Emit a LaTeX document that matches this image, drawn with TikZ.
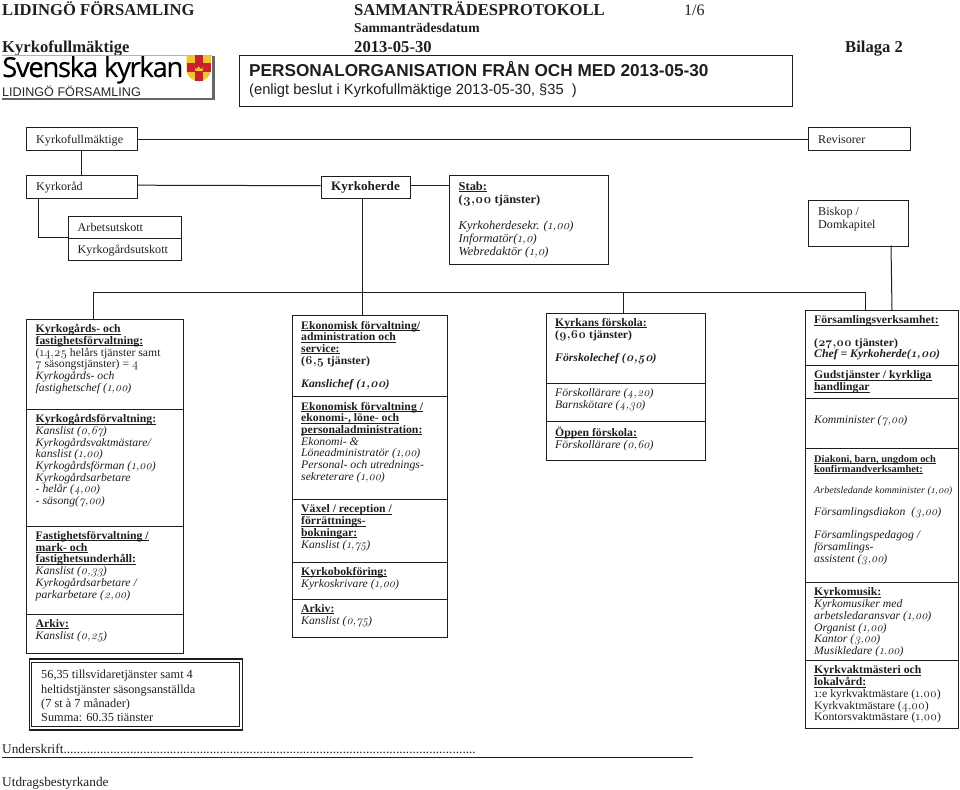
\documentclass[tikz,border=0pt]{standalone}
\usepackage{fontspec}
\setmainfont{Liberation Serif}
\newfontfamily\geo[FakeStretch=1.02]{Liberation Serif}
\newfontfamily\geonum[Numbers=OldStyle,Scale=1.06]{Latin Modern Roman}
\newfontfamily\arialf{Liberation Sans}
\newfontfamily\logof[FakeBold=0.5]{Open Sans}
\newcommand{\nn}[1]{{\geonum #1}}
\newsavebox{\ubbox}
\newcommand{\ub}[1]{\sbox{\ubbox}{\textbf{#1}}\rlap{\rule[-1.5pt]{\wd\ubbox}{.65pt}}\usebox{\ubbox}}
\definecolor{ink}{HTML}{1E1E1E}
\definecolor{shieldy}{HTML}{F2C230}
\definecolor{shieldr}{HTML}{C8202F}
\tikzset{
  x=1pt,y=-1pt,
  every node/.style={text=ink},
  frame/.style={draw=ink,line width=1pt,inner sep=0pt,fill=none},
  conn/.style={draw=ink,line width=1pt},
  cellbody/.style={inner sep=0pt,anchor=north west,align=left,
    font=\geo\fontsize{11.5}{11.68}\selectfont,execute at begin node=\strut},
  labeltxt/.style={inner sep=0pt,anchor=base west,font=\geo\fontsize{11.9}{13}\selectfont},
  hdr/.style={inner sep=0pt,anchor=base west,font=\bfseries\fontsize{16.6}{18}\selectfont},
}
\newcommand{\cell}[6]{%
  \node[frame,anchor=north west,minimum width=#4,minimum height=#5] (#1) at (#2,#3) {};
  \node[cellbody] (#1t) at ([xshift=9.5pt,yshift=-5.8pt]#1.north west) {#6};}
\newcommand{\plainbox}[6]{%
  \node[frame,anchor=north west,minimum width=#4,minimum height=#5] (#1) at (#2,#3) {};
  \node[labeltxt] (#1t) at ([xshift=10pt,yshift=-16pt]#1.north west) {#6};}
\begin{document}
\begin{tikzpicture}
\useasboundingbox (0,0) rectangle (960,789);
% header
\node[hdr] (h1) at (2,15.5) {LIDINGÖ FÖRSAMLING};
\node[hdr] (h2) at (354,15.5) {SAMMANTRÄDESPROTOKOLL};
\node[inner sep=0pt,anchor=base west,font=\fontsize{16}{18}\selectfont] (h3) at (684,15.5) {1/6};
\node[inner sep=0pt,anchor=base west,font=\bfseries\fontsize{13.6}{15}\selectfont] (h4) at (354,33) {Sammanträdesdatum};
\node[hdr] (h5) at (2,52.5) {Kyrkofullmäktige};
\node[hdr] (h6) at (354,52.5) {2013-05-30};
\node[hdr] (h7) at (845,52.5) {Bilaga 2};
% logo
\fill[gray!80!black] (212,56) rectangle (214.6,100.5);
\fill[gray!80!black] (2,98) rectangle (214.6,100.5);
\draw[gray!60,line width=.5pt] (2,55.5) -- (212,55.5);
\node[inner sep=0pt,anchor=base west,font=\logof\fontsize{27.5}{28}\selectfont,text=black] (lg1) at (2,77) {\addfontfeature{LetterSpace=-4.9}Svenska kyrkan};
\node[inner sep=0pt,anchor=base west,font=\arialf\fontsize{12.6}{13}\selectfont,text=black!85] (lg2) at (2,97) {LIDINGÖ FÖRSAMLING};
\fill[shieldy] (186.5,55.5) -- (211,55.5) -- (211,70) .. controls (211,77) and (204,81) .. (199,81.5) .. controls (193,81) and (186.5,77) .. (186.5,70) -- cycle;
\fill[shieldr] (195,55.5) rectangle (203,81.3);
\fill[shieldr] (186.5,63) rectangle (211,72);
\fill[shieldy] (194.5,67) -- (196,69.5) -- (198.7,66.5) -- (201.5,69.5) -- (203.5,67) -- (202.5,71) -- (195.5,71) -- cycle;
% title
\node[frame,anchor=north west,minimum width=553,minimum height=50.5] (title) at (239,55.5) {};
\node[inner sep=0pt,anchor=base west,font=\arialf\bfseries\fontsize{17.2}{18}\selectfont] (t1) at (249,77) {PERSONALORGANISATION FRÅN OCH MED 2013-05-30};
\node[inner sep=0pt,anchor=base west,font=\arialf\fontsize{14.7}{15}\selectfont] (t2) at (249,95) {(enligt beslut i Kyrkofullmäktige 2013-05-30, §35~ )};
% top boxes
\plainbox{kf}{26}{127}{111}{23}{Kyrkofullmäktige}
\plainbox{rev}{808}{127}{101.5}{23}{Revisorer}
\plainbox{kr}{26}{174.5}{111}{23}{Kyrkoråd}
\plainbox{au}{67.5}{215.5}{113}{22}{Arbetsutskott}
\plainbox{ku}{67.5}{237.5}{113}{22.5}{Kyrkogårdsutskott}
\node[frame,anchor=north west,minimum width=89,minimum height=22] (kh) at (320.5,175.5) {};
\node[inner sep=0pt,font=\geo\bfseries\fontsize{12.9}{13}\selectfont] (kht) at (kh.center) {Kyrkoherde};
\node[frame,anchor=north west,minimum width=100,minimum height=46] (bd) at (808,199.5) {};
\node[inner sep=0pt,anchor=north west,align=left,font=\geo\fontsize{11.9}{13}\selectfont,execute at begin node=\strut] (bdt) at (818,207.5) {Biskop /\\Domkapitel};
\node[frame,anchor=north west,minimum width=158.5,minimum height=89] (st) at (449,174.5) {};
\node[cellbody,font=\geo\fontsize{12.2}{13}\selectfont] (stt) at (458.5,181.5) {\ub{Stab:}\\\textbf{(\nn{3,00} tjänster)}\\[13pt]\textit{Kyrkoherdesekr. (\nn{1,00})}\\\textit{Informatör(\nn{1,0})}\\\textit{Webredaktör (\nn{1,0})}};
% box 1
\cell{aa}{26}{318.5}{156.5}{90}{\ub{Kyrkogårds- och}\\\ub{fastighetsförvaltning:}\\(\nn{14,25} helårs tjänster samt\\\nn{7} säsongstjänster) = \nn{4}\\\textit{Kyrkogårds- och}\\\textit{fastighetschef (\nn{1,00})}}
\cell{ab}{26}{408.5}{156.5}{117}{\ub{Kyrkogårdsförvaltning:}\\\textit{Kanslist (\nn{0,67})}\\\textit{Kyrkogårdsvaktmästare/}\\\textit{kanslist (\nn{1,00})}\\\textit{Kyrkogårdsförman (\nn{1,00})}\\\textit{Kyrkogårdsarbetare}\\\textit{- helår (\nn{4,00})}\\\textit{- säsong(\nn{7,00})}}
\cell{ac}{26}{525.5}{156.5}{88}{\ub{Fastighetsförvaltning /}\\\ub{mark- och}\\\ub{fastighetsunderhåll:}\\\textit{Kanslist (\nn{0,33})}\\\textit{Kyrkogårdsarbetare /}\\\textit{parkarbetare (\nn{2,00})}}
\cell{ad}{26}{613.5}{156.5}{39.5}{\ub{Arkiv:}\\\textit{Kanslist (\nn{0,25})}}
% summary
\node[inner sep=0pt,anchor=north west,align=left,font=\fontsize{12.3}{14.4}\selectfont,execute at begin node=\strut] (sumt) at (41,670) {56,35 tillsvidaretjänster samt 4\\heltidstjänster säsongsanställda\\(7 st à 7 månader)\\Summa: 60,35 tjänster};
\fill[white] (32,720.8) rectangle (239,730);
\node[frame,anchor=north west,line width=1.3pt,minimum width=213.5,minimum height=71] (sum) at (28.5,658.2) {};
\node[frame,anchor=north west,line width=.8pt,minimum width=208,minimum height=64.5] (sumi) at (31.3,661.5) {};
% box 2
\cell{ba}{291.5}{315}{155}{81}{\ub{Ekonomisk förvaltning/}\\\ub{administration och}\\\ub{service:}\\\textbf{(\nn{6,5} tjänster)}\\[11.68pt]\textbf{\textit{Kanslichef (\nn{1,00})}}}
\cell{bb}{291.5}{396}{155}{103}{\ub{Ekonomisk förvaltning /}\\\ub{ekonomi-, löne- och}\\\ub{personaladministration:}\\\textit{Ekonomi- \&}\\\textit{Löneadministratör (\nn{1,00})}\\\textit{Personal- och utrednings-}\\\textit{sekreterare (\nn{1,00})}}
\cell{bc}{291.5}{499}{155}{62.5}{\ub{Växel / reception /}\\\ub{förrättnings-}\\\ub{bokningar:}\\\textit{Kanslist (\nn{1,75})}}
\cell{bd}{291.5}{561.5}{155}{37}{\ub{Kyrkobokföring:}\\\textit{Kyrkoskrivare (\nn{1,00})}}
\cell{be}{291.5}{598.5}{155}{38}{\ub{Arkiv:}\\\textit{Kanslist (\nn{0,75})}}
% box 3
\cell{ca}{545.5}{312.5}{159}{70}{\ub{Kyrkans förskola:}\\\textbf{(\nn{9,60} tjänster)}\\[11.68pt]\textbf{\textit{Förskolechef (\nn{0,50})}}}
\cell{cb}{545.5}{382.5}{159}{38.5}{\textit{Förskollärare (\nn{4,20})}\\\textit{Barnskötare (\nn{4,30})}}
\cell{cc}{545.5}{421}{159}{38.5}{\ub{Öppen förskola:}\\\textit{Förskollärare (\nn{0,60})}}
% box 4
\cell{da}{804.5}{310}{153}{55}{\ub{Församlingsverksamhet:}\\[10.5pt]\textbf{(\nn{27,00} tjänster)}\\\textbf{\textit{Chef = Kyrkoherde(\nn{1,00})}}}
\cell{db}{804.5}{365}{153}{33}{\ub{Gudstjänster / kyrkliga}\\\ub{handlingar}}
\node[frame,anchor=north west,minimum width=153,minimum height=50] (dc) at (804.5,398) {};
\node[cellbody] (dct) at (814,415) {\textit{Komminister (\nn{7,00})}};
\node[frame,anchor=north west,minimum width=153,minimum height=134] (dd) at (804.5,448) {};
\node[cellbody,font=\geo\fontsize{10.2}{10.3}\selectfont] (ddt) at (814,455) {\ub{Diakoni, barn, ungdom och}\\\ub{konfirmandverksamhet:}};
\node[cellbody,font=\geo\fontsize{9.9}{11}\selectfont] (dde) at (814,485.5) {\textit{Arbetsledande komminister (\nn{1,00})}};
\node[cellbody] (ddf) at (814,507) {\textit{Församlingsdiakon~ (\nn{3,00})}};
\node[cellbody] (ddg) at (814,530.5) {\textit{Församlingspedagog /}\\\textit{församlings-}\\\textit{assistent (\nn{3,00})}};
\cell{de}{804.5}{582}{153}{78}{\ub{Kyrkomusik:}\\\textit{Kyrkomusiker med}\\\textit{arbetsledaransvar (\nn{1,00})}\\\textit{Organist (\nn{1,00})}\\\textit{Kantor (\nn{3,00})}\\\textit{Musikledare (\nn{1.00})}}
\cell{df}{804.5}{660}{153}{67.5}{\ub{Kyrkvaktmästeri och}\\\ub{lokalvård:}\\\nn{1}:e kyrkvaktmästare (\nn{1,00})\\Kyrkvaktmästare (\nn{4,00})\\Kontorsvaktmästare (\nn{1,00})}
% connectors
\coordinate (busl) at (93.5,292);
\coordinate (busr) at (865,292);
\coordinate (busk) at (362,292);
\coordinate (busc) at (623.7,292);
\draw[conn] (kf.east) -- (rev.west);
\draw[conn] (kf.south -| 81,0) -- (kr.north -| 81,0);
\draw[conn] ([yshift=1.3pt]kr.east) -- ([yshift=1.3pt]kh.west);
\draw[conn] ([yshift=1.3pt]kh.east) -- ([yshift=1.3pt]kh.east -| st.west);
\draw[conn] (38,197.5) |- (ku.north west);
\draw[conn] (362,197.5) -- (busk);
\draw[conn] (aa.north -| busl) -- (busl) -- (busr) -- (da.north -| busr);
\draw[conn] (busk) -- (ba.north -| busk);
\draw[conn] (busc) -- (ca.north -| busc);
\draw[conn] (891,245.5) -- (892,310);
% footer
\node[inner sep=0pt,anchor=base west,font=\fontsize{13.3}{15}\selectfont] (f1) at (2,753) {Underskrift............................................................................................................................};
\coordinate (fl) at (2,757.5);
\coordinate (fr) at (693,757.5);
\draw[draw=ink,line width=1pt] (fl) -- (fr);
\node[inner sep=0pt,anchor=base west,font=\fontsize{13.3}{15}\selectfont] (f2) at (2,786) {Utdragsbestyrkande};
\end{tikzpicture}
\end{document}
